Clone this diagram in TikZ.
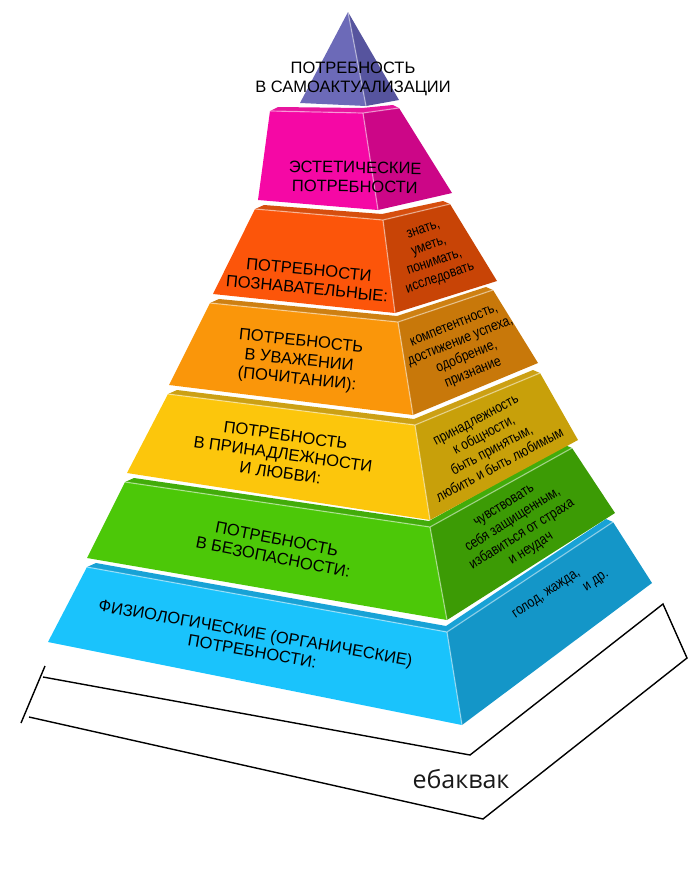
\documentclass[tikz,border=0pt]{standalone}
\usepackage{fontspec}
\setmainfont{Liberation Sans}
\newfontfamily\narrowsans[FakeStretch=0.84]{Liberation Sans}
\newfontfamily\captionsans{Open Sans}
\usepackage{tikz}
\usetikzlibrary{shapes,positioning,calc}

\definecolor{apexF}{RGB}{108,106,184}
\definecolor{apexS}{RGB}{86,84,158}
\definecolor{aesthF}{RGB}{245,8,165}
\definecolor{aesthS}{RGB}{204,6,135}
\definecolor{aesthT}{RGB}{232,22,158}
\definecolor{cognF}{RGB}{252,85,10}
\definecolor{cognS}{RGB}{200,68,6}
\definecolor{cognT}{RGB}{214,78,14}
\definecolor{esteemF}{RGB}{250,150,10}
\definecolor{esteemS}{RGB}{200,120,10}
\definecolor{esteemT}{RGB}{206,128,18}
\definecolor{loveF}{RGB}{252,198,12}
\definecolor{loveS}{RGB}{200,160,10}
\definecolor{loveT}{RGB}{204,160,20}
\definecolor{safeF}{RGB}{76,200,8}
\definecolor{safeS}{RGB}{60,155,5}
\definecolor{safeT}{RGB}{66,172,10}
\definecolor{physF}{RGB}{26,195,252}
\definecolor{physS}{RGB}{20,150,200}
\definecolor{physT}{RGB}{24,162,214}

\tikzset{
  need label/.style={font={\fontsize{16.5}{19}\selectfont}, align=center, inner sep=0pt},
  need note/.style={font={\narrowsans\fontsize{14.5}{17}\selectfont}, align=center, inner sep=0pt},
  level edge/.style={draw=white, draw opacity=0.45, line width=1.2pt},
  bracket line/.style={draw=black, line width=1.4pt, line join=miter},
  base label/.style={font={\captionsans\fontsize{25}{28}\selectfont}, text=black!90, inner sep=0pt}
}

\begin{document}
\begin{tikzpicture}[x=1pt, y=-1pt]
    \useasboundingbox (0,0) rectangle (700,871);

    % Base bracket
    \coordinate (tickA) at (45,666);
    \coordinate (tickB) at (21,723);
    \coordinate (brA) at (43,677);
    \coordinate (brB) at (470,755);
    \coordinate (brC) at (663,604);
    \coordinate (brD) at (687,658);
    \coordinate (brE) at (483,819);
    \coordinate (brF) at (29,717);
    \draw [bracket line] (tickA) -- (tickB);
    \draw [bracket line] (brA) -- (brB) -- (brC) -- (brD) -- (brE) -- (brF);
    \node [base label] (base) at (461,779) {ебаквак};

    % Level 1: physiological
    \coordinate (physTL) at (87,567);
    \coordinate (physTR) at (447,632);
    \coordinate (physBTR) at (613,522);
    \coordinate (physBL) at (48,642);
    \coordinate (physBR) at (462,725);
    \coordinate (physBBR) at (652,583);
    \fill [physT] (physTL) -- (physTR) -- (physBTR) -- ($(physBTR)+(-7,-3)$) -- ($(physTR)+(-1,-6)$) -- ($(physTL)+(9,-4)$) -- cycle;
    \fill [physF] (physTL) -- (physTR) -- (physBR) -- (physBL) -- cycle;
    \fill [physS] (physTR) -- (physBTR) -- (physBBR) -- (physBR) -- cycle;
    \draw [level edge] (physTL) -- (physTR) -- (physBTR);
    \draw [level edge] (physTR) -- (physBR);

    % Level 2: safety
    \coordinate (safeTL) at (125,482);
    \coordinate (safeTR) at (430,527);
    \coordinate (safeBTR) at (572,448);
    \coordinate (safeBL) at (87,558);
    \coordinate (safeBR) at (447,620);
    \coordinate (safeBBR) at (615,513);
    \fill [safeT] (safeTL) -- (safeTR) -- (safeBTR) -- ($(safeBTR)+(-7,-3)$) -- ($(safeTR)+(-1,-6)$) -- ($(safeTL)+(9,-4)$) -- cycle;
    \fill [safeF] (safeTL) -- (safeTR) -- (safeBR) -- (safeBL) -- cycle;
    \fill [safeS] (safeTR) -- (safeBTR) -- (safeBBR) -- (safeBR) -- cycle;
    \draw [level edge] (safeTL) -- (safeTR) -- (safeBTR);
    \draw [level edge] (safeTR) -- (safeBR);

    % Level 3: belonging and love
    \coordinate (loveTL) at (168,394);
    \coordinate (loveTR) at (415,425);
    \coordinate (loveBTR) at (540,373);
    \coordinate (loveBL) at (127,473);
    \coordinate (loveBR) at (430,520);
    \coordinate (loveBBR) at (578,440);
    \fill [loveT] (loveTL) -- (loveTR) -- (loveBTR) -- ($(loveBTR)+(-7,-3)$) -- ($(loveTR)+(-1,-6)$) -- ($(loveTL)+(9,-4)$) -- cycle;
    \fill [loveF] (loveTL) -- (loveTR) -- (loveBR) -- (loveBL) -- cycle;
    \fill [loveS] (loveTR) -- (loveBTR) -- (loveBBR) -- (loveBR) -- cycle;
    \draw [level edge] (loveTL) -- (loveTR) -- (loveBTR);
    \draw [level edge] (loveTR) -- (loveBR);

    % Level 4: esteem
    \coordinate (esteemTL) at (210,303);
    \coordinate (esteemTR) at (398,322);
    \coordinate (esteemBTR) at (493,290);
    \coordinate (esteemBL) at (169,385);
    \coordinate (esteemBR) at (413,415);
    \coordinate (esteemBBR) at (538,363);
    \fill [esteemT] (esteemTL) -- (esteemTR) -- (esteemBTR) -- ($(esteemBTR)+(-7,-3)$) -- ($(esteemTR)+(-1,-6)$) -- ($(esteemTL)+(9,-4)$) -- cycle;
    \fill [esteemF] (esteemTL) -- (esteemTR) -- (esteemBR) -- (esteemBL) -- cycle;
    \fill [esteemS] (esteemTR) -- (esteemBTR) -- (esteemBBR) -- (esteemBR) -- cycle;
    \draw [level edge] (esteemTL) -- (esteemTR) -- (esteemBTR);
    \draw [level edge] (esteemTR) -- (esteemBR);

    % Level 5: cognitive
    \coordinate (cognTL) at (255,209);
    \coordinate (cognTR) at (383,220);
    \coordinate (cognBTR) at (450,204);
    \coordinate (cognBL) at (213,294);
    \coordinate (cognBR) at (395,313);
    \coordinate (cognBBR) at (497,281);
    \fill [cognT] (cognTL) -- (cognTR) -- (cognBTR) -- ($(cognBTR)+(-7,-3)$) -- ($(cognTR)+(-1,-6)$) -- ($(cognTL)+(9,-4)$) -- cycle;
    \fill [cognF] (cognTL) -- (cognTR) -- (cognBR) -- (cognBL) -- cycle;
    \fill [cognS] (cognTR) -- (cognBTR) -- (cognBBR) -- (cognBR) -- cycle;
    \draw [level edge] (cognTL) -- (cognTR) -- (cognBTR);
    \draw [level edge] (cognTR) -- (cognBR);

    % Level 6: aesthetic
    \coordinate (aesthTL) at (270,111);
    \coordinate (aesthTR) at (363,113);
    \coordinate (aesthBTR) at (399,108);
    \coordinate (aesthBL) at (258,200);
    \coordinate (aesthBR) at (378,210);
    \coordinate (aesthBBR) at (452,193);
    \fill [aesthT] (aesthTL) -- (aesthTR) -- (aesthBTR) -- ($(aesthBTR)+(-6,-3)$) -- ($(aesthTR)+(-1,-5)$) -- ($(aesthTL)+(8,-4)$) -- cycle;
    \fill [aesthF] (aesthTL) -- (aesthTR) -- (aesthBR) -- (aesthBL) -- cycle;
    \fill [aesthS] (aesthTR) -- (aesthBTR) -- (aesthBBR) -- (aesthBR) -- cycle;
    \draw [level edge] (aesthTL) -- (aesthTR) -- (aesthBTR);
    \draw [level edge] (aesthTR) -- (aesthBR);

    % Apex: self-actualization
    \coordinate (apexTop) at (348,12);
    \coordinate (apexL) at (300,103);
    \coordinate (apexM) at (366,106);
    \coordinate (apexR) at (399,100);
    \fill [apexF] (apexTop) -- (apexM) -- (apexL) -- cycle;
    \fill [apexS] (apexTop) -- (apexR) -- (apexM) -- cycle;
    \draw [level edge] (apexTop) -- (apexM);

    % Labels on the front faces
    \node [need label] (apexText) at (353,79) {ПОТРЕБНОСТЬ\\В САМОАКТУАЛИЗАЦИИ};
    \node [need label, rotate=-1] (aesthText) at (355,177) {ЭСТЕТИЧЕСКИЕ\\ПОТРЕБНОСТИ};
    \node [need label, rotate=-5.5] (cognText) at (308,279) {ПОТРЕБНОСТИ\\ПОЗНАВАТЕЛЬНЫЕ:};
    \node [need label, rotate=-6] (esteemText) at (299,361) {ПОТРЕБНОСТЬ\\В УВАЖЕНИИ\\(ПОЧИТАНИИ):};
    \node [need label, rotate=-8] (loveText) at (283,454) {ПОТРЕБНОСТЬ\\В ПРИНАДЛЕЖНОСТИ\\И ЛЮБВИ:};
    \node [need label, rotate=-11] (safeText) at (275,548) {ПОТРЕБНОСТЬ\\В БЕЗОПАСНОСТИ:};
    \node [need label, rotate=-10] (physText) at (254,642) {ФИЗИОЛОГИЧЕСКИЕ (ОРГАНИЧЕСКИЕ)\\ПОТРЕБНОСТИ:};

    % Notes on the side faces
    \node [need note, rotate=19] (cognNote) at (432,255) {знать,\\уметь,\\понимать,\\исследовать};
    \node [need note, rotate=22] (esteemNote) at (464,350) {компетентность,\\достижение успеха,\\одобрение,\\признание};
    \node [need note, rotate=28] (loveNote) at (488,443) {принадлежность\\к общности,\\быть принятым,\\любить и быть любимым};
    \node [need note, rotate=32] (safeNote) at (518,528) {чувствовать\\себя защищенным,\\избавиться от страха\\и неудач};
    \node [need note, rotate=34, align=left] (physNote) at (561,595) {голод, жажда,\\\hspace*{74pt}и др.};
\end{tikzpicture}
\end{document}
